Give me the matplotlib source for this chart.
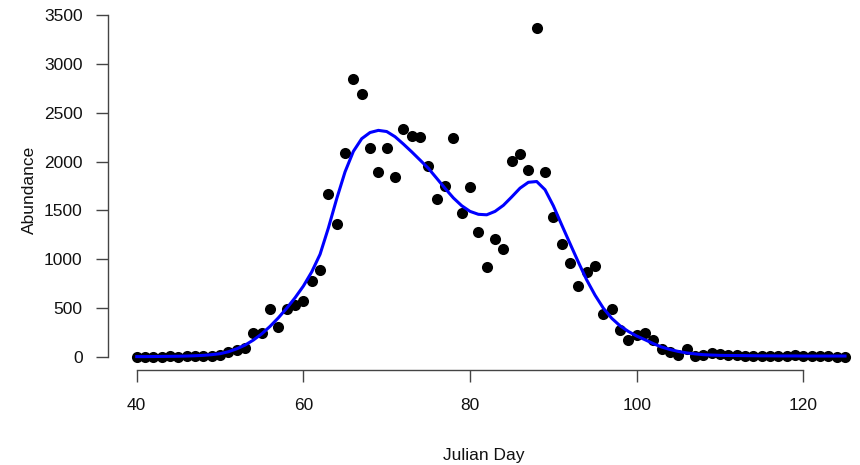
import numpy as np
import matplotlib
matplotlib.use("Agg")
import matplotlib.pyplot as plt

plt.rcParams['font.family'] = ['Liberation Sans', 'DejaVu Sans']

days = list(range(40, 126))
abundance = [2, 0, 3, 0, 5, 3, 5, 8, 10, 12,
             20, 45, 69, 90, 240, 245, 486, 301, 486, 530,
             574, 779, 889, 1668, 1360, 2091, 2846, 2690, 2136, 1890,
             2136, 1845, 2334, 2265, 2255, 1955, 1613, 1753, 2245, 1470,
             1736, 1281, 916, 1203, 1104, 2009, 2078, 1914, 3372, 1890,
             1429, 1152, 964, 725, 871, 933, 435, 486, 278, 171,
             222, 240, 171, 76, 51, 17, 76, 5, 20, 35,
             25, 20, 15, 12, 10, 8, 10, 5, 8, 15,
             10, 8, 5, 5, 3, 2]
fitted = [2, 2, 3, 4, 5, 6, 8, 11, 15, 22,
          32, 52, 82, 120, 172, 235, 312, 400, 498, 605,
          725, 870, 1050, 1320, 1620, 1895, 2105, 2235, 2298, 2320,
          2308, 2255, 2180, 2100, 2016, 1931, 1829, 1726, 1628, 1548,
          1490, 1460, 1455, 1490, 1552, 1638, 1728, 1788, 1796, 1712,
          1547, 1352, 1160, 970, 788, 632, 498, 395, 318, 260,
          213, 175, 135, 100, 75, 55, 40, 30, 22, 18,
          15, 14, 13, 12, 11, 10, 10, 9, 9, 9,
          8, 8, 8, 8, 8, 8]
xticks = [40, 60, 80, 100, 120]
yticks = [0, 500, 1000, 1500, 2000, 2500, 3000, 3500]

W, H = 860, 465
fig = plt.figure(figsize=(W / 100, H / 100), dpi=100)
left_px, right_px, top_px, bottom_px = 108.4, 860, 14.5, 370
ax = fig.add_axes([left_px / W, 1 - bottom_px / H,
                   (right_px - left_px) / W, (bottom_px - top_px) / H])

ax.scatter(days, abundance, s=64, color='black', zorder=3, linewidths=0)
ax.plot(days, fitted, color='#0000ff', lw=2.2, zorder=4,
        solid_joinstyle='round')

ax.set_xlim(36.6, 40 + (860 - 136.7) / 8.333)
ax.set_ylim(-135, 3507)

for s in ['top', 'right']:
    ax.spines[s].set_visible(False)
spine_col = '#444444'
ax.spines['left'].set_bounds(0, 3500)
ax.spines['bottom'].set_bounds(40, 120)
for s in ['left', 'bottom']:
    ax.spines[s].set_color(spine_col)
    ax.spines[s].set_linewidth(1.0)

ax.set_xticks(xticks)
ax.set_yticks(yticks)
ax.tick_params(axis='both', direction='out', length=8.5, width=1.0,
               color=spine_col, labelsize=12.5, labelcolor='#111111')
ax.tick_params(axis='y', pad=10)
ax.tick_params(axis='x', pad=12)

fig.text(29 / W, 1 - 190 / H, 'Abundance', rotation=90, ha='center',
         va='center', fontsize=12.5, color='#111111')
fig.text(484 / W, 1 - 455 / H, 'Julian Day', ha='center', va='center',
         fontsize=12.5, color='#111111')

fig.savefig('out.png', dpi=100)
